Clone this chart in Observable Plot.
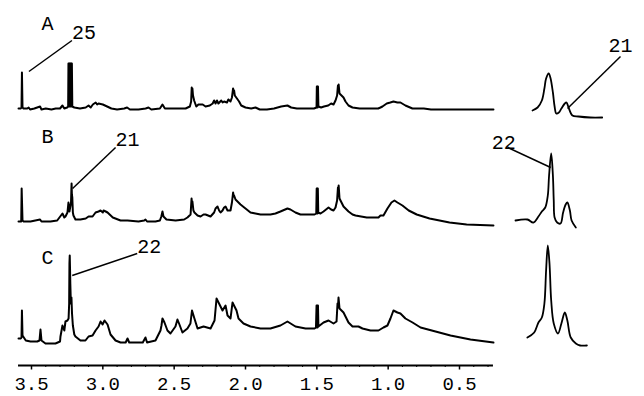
<!DOCTYPE html>
<html><head><meta charset="utf-8">
<script src="https://cdn.jsdelivr.net/npm/d3@7"></script>
<script src="https://cdn.jsdelivr.net/npm/@observablehq/plot@0.6"></script>
<style>
body{margin:0;background:#fff;}
#chart{position:relative;width:644px;height:396px;overflow:hidden;}
#chart svg{position:absolute;left:0;top:0;}
</style></head><body><div id="chart"></div>
<script>
// ---- data (ppm, intensity above each trace's baseline) ----
const traceNames = ["A", "B", "C"];

const spectrumA = [[3.591,1],[3.575,1],[3.570,2],[3.567,37],[3.563,2],[3.556,1],[3.53,1],[3.52,2],[3.51,0],[3.48,1],[3.44,3],[3.43,0],[3.40,1],[3.36,0],[3.33,1],[3.30,1],[3.283,4],[3.27,1],[3.25,2],[3.243,3],[3.241,46],[3.239,3],[3.237,46],[3.235,3],[3.233,46],[3.231,3],[3.229,46],[3.227,3],[3.225,46],[3.223,3],[3.221,46],[3.219,3],[3.217,46],[3.214,3],[3.20,2],[3.16,1],[3.12,2],[3.10,4],[3.085,2],[3.07,5],[3.05,7],[3.04,5],[3.03,6],[3.00,5],[2.97,3],[2.94,1],[2.90,0],[2.85,1],[2.83,2],[2.81,0],[2.75,0],[2.70,1],[2.68,2],[2.66,0],[2.60,1],[2.582,5],[2.565,1],[2.50,1],[2.42,1],[2.39,3],[2.381,8],[2.377,22],[2.374,18],[2.372,21],[2.368,14],[2.36,9],[2.345,3],[2.33,5],[2.30,5],[2.28,3],[2.25,4],[2.23,6],[2.22,9],[2.21,6],[2.20,9],[2.19,6],[2.17,9],[2.16,7],[2.15,8],[2.13,7],[2.12,10],[2.105,8],[2.095,12],[2.087,21],[2.083,17],[2.080,19],[2.075,14],[2.06,11],[2.045,8],[2.03,4],[2.00,2],[1.96,1],[1.93,2],[1.90,0],[1.85,0],[1.80,1],[1.75,3],[1.706,4],[1.68,2],[1.64,1],[1.58,1],[1.52,1],[1.502,2],[1.500,23],[1.498,2],[1.496,23],[1.494,2],[1.492,23],[1.489,3],[1.47,2],[1.45,3],[1.42,4],[1.40,6],[1.383,5],[1.369,9],[1.358,14],[1.352,24],[1.349,20],[1.347,25],[1.341,16],[1.327,14],[1.313,12],[1.299,8],[1.278,4],[1.25,2],[1.20,1],[1.15,1],[1.10,1],[1.07,1],[1.054,2],[1.04,3],[1.01,6],[0.985,7],[0.963,8],[0.935,7],[0.914,7],[0.879,4],[0.83,1],[0.75,1],[0.70,0],[0.60,0],[0.50,0],[0.40,0],[0.262,0]];

const spectrumB = [[3.591,1],[3.572,1],[3.569,34],[3.563,2],[3.555,1],[3.507,1],[3.44,3],[3.43,1],[3.367,1],[3.32,2],[3.283,9],[3.27,5],[3.262,6],[3.248,10],[3.241,20],[3.234,11],[3.223,20],[3.221,30],[3.219,39],[3.217,28],[3.214,25],[3.210,10],[3.206,7],[3.192,3],[3.157,3],[3.12,4],[3.100,6],[3.072,6],[3.051,10],[3.03,11],[3.016,12],[3.00,10],[2.995,12],[2.98,11],[2.967,10],[2.93,5],[2.876,2],[2.827,2],[2.75,1],[2.71,2],[2.701,3],[2.69,1],[2.631,1],[2.60,2],[2.590,6],[2.582,11],[2.575,6],[2.554,3],[2.49,2],[2.43,3],[2.407,5],[2.385,8],[2.378,24],[2.375,19],[2.372,21],[2.365,12],[2.358,10],[2.336,7],[2.315,6],[2.294,8],[2.28,8],[2.245,6],[2.220,10],[2.210,14],[2.196,16],[2.185,12],[2.175,10],[2.161,12],[2.150,15],[2.140,16],[2.126,12],[2.105,12],[2.095,20],[2.087,30],[2.083,26],[2.080,27],[2.070,23],[2.049,20],[2.035,18],[2.000,14],[1.965,10],[1.930,9],[1.895,8],[1.860,8],[1.825,8],[1.790,9],[1.755,11],[1.706,14],[1.685,13],[1.650,10],[1.615,8],[1.579,8],[1.516,8],[1.504,9],[1.501,34],[1.499,9],[1.497,34],[1.495,9],[1.493,34],[1.490,10],[1.474,9],[1.453,11],[1.418,15],[1.400,13],[1.383,12],[1.369,15],[1.358,22],[1.352,35],[1.349,31],[1.347,37],[1.341,24],[1.327,20],[1.313,16],[1.299,14],[1.278,11],[1.250,8],[1.229,7],[1.19,6],[1.15,5],[1.10,5],[1.068,5],[1.054,7],[1.033,7],[1.005,14],[0.977,20],[0.956,22],[0.935,20],[0.900,17],[0.856,12],[0.80,8],[0.71,4],[0.57,0],[0.45,-2],[0.262,-3]];

const spectrumC = [[3.591,5],[3.575,5],[3.570,6],[3.567,33],[3.563,8],[3.54,3],[3.507,2],[3.46,2],[3.444,3],[3.437,14],[3.430,3],[3.402,0],[3.332,0],[3.30,2],[3.297,7],[3.283,18],[3.27,13],[3.262,22],[3.248,23],[3.240,25],[3.236,40],[3.234,80],[3.232,88],[3.230,75],[3.228,60],[3.224,40],[3.220,46],[3.216,30],[3.210,18],[3.200,9],[3.192,7],[3.157,3],[3.122,3],[3.100,7],[3.072,8],[3.051,13],[3.030,17],[3.016,22],[3.002,19],[2.988,23],[2.967,19],[2.946,9],[2.911,3],[2.876,1],[2.840,1],[2.827,5],[2.815,1],[2.72,1],[2.701,6],[2.69,1],[2.631,3],[2.596,13],[2.589,18],[2.582,25],[2.568,21],[2.547,13],[2.526,10],[2.491,17],[2.477,24],[2.463,19],[2.442,11],[2.407,15],[2.386,20],[2.375,33],[2.358,25],[2.336,15],[2.294,17],[2.245,15],[2.217,23],[2.203,45],[2.189,41],[2.161,33],[2.140,38],[2.126,28],[2.105,25],[2.091,41],[2.077,37],[2.063,33],[2.049,25],[2.014,20],[1.965,17],[1.895,15],[1.825,15],[1.755,18],[1.706,22],[1.650,17],[1.579,15],[1.516,15],[1.506,16],[1.502,38],[1.500,16],[1.497,38],[1.495,16],[1.492,38],[1.489,17],[1.453,21],[1.418,23],[1.383,20],[1.362,22],[1.355,40],[1.352,36],[1.348,46],[1.341,35],[1.327,33],[1.313,31],[1.299,27],[1.278,21],[1.250,17],[1.208,17],[1.180,15],[1.124,13],[1.068,13],[1.033,16],[1.005,18],[0.984,25],[0.963,33],[0.935,31],[0.914,30],[0.879,25],[0.829,21],[0.773,16],[0.668,12],[0.563,8],[0.458,5],[0.423,4],[0.262,1]];

// expanded 3.2 ppm region (insets)
const insetA = [[3.245,-1],[3.239,2],[3.234,9],[3.231,21],[3.229,31],[3.226,36],[3.224,32],[3.221,17],[3.219,3],[3.217,-4],[3.214,-3],[3.211,1],[3.207,6],[3.205,7],[3.203,3],[3.198,-6],[3.191,-7],[3.177,-8],[3.163,-8]];
const insetB = [[3.265,2],[3.251,3],[3.244,0],[3.238,6],[3.234,11],[3.230,15],[3.227,27],[3.2255,47],[3.223,69],[3.221,47],[3.220,22],[3.219,5],[3.216,0],[3.212,-1],[3.209,10],[3.206,18],[3.204,20],[3.201,12],[3.199,2],[3.194,-5]];
const insetC = [[3.251,6],[3.243,11],[3.238,21],[3.234,26],[3.231,40],[3.229,73],[3.227,98],[3.225,80],[3.223,43],[3.220,20],[3.215,10],[3.211,20],[3.207,31],[3.204,23],[3.200,6],[3.194,0],[3.189,-2],[3.181,-2]];

const tickValues = [3.5, 3.0, 2.5, 2.0, 1.5, 1.0, 0.5];
const tickLabels = ["3.5", "3.0", "2.5", "2.0", "1.5", "1.0", "0.5"];

const peakLabels = [
  {label: "25", trace: "A", ppm: 3.567, inset: false},
  {label: "21", trace: "B", ppm: 3.219, inset: false},
  {label: "22", trace: "C", ppm: 3.232, inset: false},
  {label: "21", trace: "A", ppm: 3.205, inset: true},
  {label: "22", trace: "B", ppm: 3.223, inset: true}
];

// ---- layout ----
const W = 644, H = 396;
const offsets = {A: 234, B: 121, C: 0};
const yDomain = [-22, 343], yRange = [365, 0];
const mainX = {domain: [3.5, 0.5], range: [31, 459]};
const insetX = {domain: [3.25, 3.18], range: [527.75, 587.25]};
const kMain = (mainX.range[1] - mainX.range[0]) / (mainX.domain[0] - mainX.domain[1]);
const kInset = (insetX.range[1] - insetX.range[0]) / (insetX.domain[0] - insetX.domain[1]);
const font = "Liberation Mono, Courier New, monospace";
const labelHeight = 86, labelPpm = 3.388;
// pixel offsets: e = leader end from peak, l = leader start from end, t = text from leader start
const leaderLayout = [
  {e: [7, -1], l: [43, -31], t: [0, -8], anchor: "start"},
  {e: [1, 5], l: [43, -41], t: [0, -8], anchor: "start"},
  {e: [2.5, 20], l: [65, -22], t: [0, -7], anchor: "start"},
  {e: [1, 6], l: [53, -52], t: [0, -11], anchor: "start"},
  {e: [-0.5, 14], l: [-43, -20], t: [-4, -5], anchor: "end"}
];

const spectra = {A: spectrumA, B: spectrumB, C: spectrumC};
const insets = {A: insetA, B: insetB, C: insetC};
const toRows = (src) => traceNames.flatMap(t => src[t].map(([p, v]) => ({trace: t, ppm: p, value: v + offsets[t]})));
const mainRows = toRows(spectra);
const insetRows = toRows(insets);
const xExtent = d3.extent(mainRows, d => d.ppm);

const ann = peakLabels.map((a, i) => {
  const src = a.inset ? insets[a.trace] : spectra[a.trace];
  const near = d3.least(src, d => Math.abs(d[0] - a.ppm));
  const k = a.inset ? kInset : kMain;
  const L = leaderLayout[i];
  const px = near[0], py = near[1] + offsets[a.trace];
  const ex = px - L.e[0] / k, ey = py - L.e[1];
  const sx = ex - L.l[0] / k, sy = ey - L.l[1];
  const tx = sx - L.t[0] / k, ty = sy - L.t[1];
  return {...a, ex, ey, sx, sy, tx, ty, anchor: L.anchor};
});
const mainAnn = ann.filter(a => !a.inset), insetAnn = ann.filter(a => a.inset);

const minorTicks = d3.range(3, 36).map(d => d / 10).filter(d => !tickValues.some(t => Math.abs(t - d) < 1e-9));

const common = {
  width: W, height: H, marginTop: 0, marginRight: 0, marginBottom: 31, marginLeft: 0,
  style: {fontFamily: font, fontSize: "20px", background: "transparent", color: "black", overflow: "visible"}
};

const main = Plot.plot({
  ...common,
  x: {...mainX, axis: null},
  y: {domain: yDomain, range: yRange, axis: null},
  marks: [
    Plot.ruleY([yDomain[0]], {x1: () => xExtent[0], x2: () => xExtent[1], stroke: "black", strokeWidth: 1.8}),
    Plot.ruleX(tickValues, {x: d => d, y1: yDomain[0], y2: yDomain[0] - 4.5, stroke: "black", strokeWidth: 1.5}),
    Plot.ruleX(minorTicks, {x: d => d, y1: yDomain[0], y2: yDomain[0] - 2, stroke: "black", strokeWidth: 1}),
    Plot.text(tickValues, {x: d => d, y: yDomain[0] - 18.5, text: (d, i) => tickLabels[i], fontSize: 19, fill: "black"}),
    Plot.line(mainRows, {x: "ppm", y: "value", z: "trace", stroke: "black", strokeWidth: 2, strokeLinejoin: "round"}),
    Plot.text(traceNames, {x: () => labelPpm, y: t => offsets[t] + labelHeight, text: t => t, fontSize: 20, fill: "black"}),
    Plot.link(mainAnn, {x1: "sx", y1: "sy", x2: "ex", y2: "ey", stroke: "black", strokeWidth: 1.5}),
    Plot.text(mainAnn, {x: "tx", y: "ty", text: "label", textAnchor: "start", fontSize: 20, fill: "black"})
  ]
});

const inset = Plot.plot({
  ...common,
  x: {...insetX, axis: null},
  y: {domain: yDomain, range: yRange, axis: null},
  marks: [
    Plot.line(insetRows, {x: "ppm", y: "value", z: "trace", stroke: "black", strokeWidth: 1.8, curve: "catmull-rom"}),
    Plot.link(insetAnn, {x1: "sx", y1: "sy", x2: "ex", y2: "ey", stroke: "black", strokeWidth: 1.5}),
    Plot.text(insetAnn, {x: "tx", y: "ty", text: "label", textAnchor: d => d.anchor, fontSize: 20, fill: "black"})
  ]
});

const chart = document.getElementById("chart");
chart.appendChild(main);
chart.appendChild(inset);
</script>
</body></html>
